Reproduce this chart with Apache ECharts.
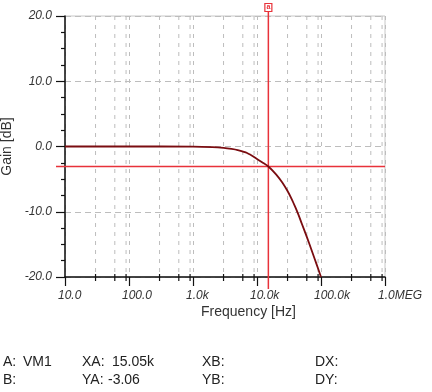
<!DOCTYPE html>
<html>
<head>
<meta charset="utf-8">
<script src="https://cdn.jsdelivr.net/npm/echarts@6/dist/echarts.min.js"></script>
<style>
html,body{margin:0;padding:0;background:#fff;}
#chart{width:432px;height:392px;}
</style>
</head>
<body>
<div id="chart"></div>
<script>
// ---- data ----
const freqs  = [10, 100, 1000, 2000, 3000, 4000, 5000, 7000, 10000, 12000, 15050, 20000, 25000, 30000, 35000, 40000, 45000, 50000, 60000, 70000, 80000, 90000, 100000];
const gainDb = [0, 0, -0.02, -0.1, -0.22, -0.38, -0.56, -1.0, -1.9, -2.4, -3.06, -4.3, -5.56, -6.83, -8.1, -9.38, -10.6, -11.8, -13.85, -15.66, -17.28, -18.7, -20.0];
const xTicks = [10, 100, 1000, 10000, 100000, 1000000];
const xTickLabels = ['10.0', '100.0', '1.0k', '10.0k', '100.0k', '1.0MEG'];
const minorGridFreqs = [30, 60, 90, 300, 600, 900, 3000, 6000, 9000, 30000, 60000, 90000, 300000, 600000, 900000];
const xMin = 10, xMax = 1000000;
const yMin = -20, yMax = 20, yStep = 10;
const cursorName = 'VM1';
const cursorX = 15050;
const cursorY = -3.06;

const FONT = '"Liberation Sans", Arial, sans-serif';
const RED = '#e8323a';
const GRID = '#bdbdbd';

const chart = echarts.init(document.getElementById('chart'), null, {renderer: 'canvas'});

function fmtK(v) { return (v / 1000).toFixed(2) + 'k'; }

const texts = [
  {l: 3,   t: 355, s: 'A:'}, {l: 23, t: 355, s: cursorName},
  {l: 82,  t: 355, s: 'XA:'}, {l: 112, t: 355, s: fmtK(cursorX)},
  {l: 202, t: 355, s: 'XB:'}, {l: 315, t: 355, s: 'DX:'},
  {l: 3,   t: 373, s: 'B:'},
  {l: 82,  t: 373, s: 'YA:'}, {l: 108, t: 373, s: cursorY.toFixed(2)},
  {l: 202, t: 373, s: 'YB:'}, {l: 315, t: 373, s: 'DY:'}
];

const option = {
  animation: false,
  backgroundColor: '#fff',
  grid: {left: 65, right: 47, top: 16, bottom: 115, show: true, borderColor: '#c8c8c8', borderWidth: 1,
         containLabel: false, outerBoundsMode: 'none'},
  xAxis: {
    type: 'log', logBase: 10, min: xMin, max: xMax,
    axisLine: {onZero: false, lineStyle: {color: '#111', width: 1.5}},
    axisTick: {show: true, length: 9, lineStyle: {color: '#111', width: 1.2}},
    minorTick: {show: false},
    splitLine: {show: true, lineStyle: {color: GRID, type: [4, 5], width: 1}},
    axisLabel: {show: false}
  },
  yAxis: {
    type: 'value', min: yMin, max: yMax, interval: yStep,
    name: 'Gain [dB]', nameLocation: 'middle', nameGap: 46, nameRotate: 90,
    nameTextStyle: {fontSize: 14, fontFamily: FONT, color: '#333'},
    axisLine: {show: true, onZero: false, lineStyle: {color: '#111', width: 1.5}},
    axisTick: {show: true, length: 9, lineStyle: {color: '#111', width: 1.2}},
    minorTick: {show: true, splitNumber: 4, length: 4, lineStyle: {color: '#111', width: 1.2}},
    splitLine: {show: true, lineStyle: {color: GRID, type: [6, 4], width: 1}},
    axisLabel: {
      margin: 13, fontSize: 12, fontStyle: 'italic', fontFamily: FONT, color: '#333',
      formatter: function (v) { return v.toFixed(1); }
    }
  },
  graphic: [
    {type: 'text', left: 201, top: 305, style: {text: 'Frequency [Hz]', font: '14px ' + FONT, fill: '#333'}}
  ].concat(texts.map(function (o) {
    return {type: 'text', left: o.l, top: o.t, style: {text: o.s, font: '14px ' + FONT, fill: '#222'}};
  })),
  series: [
    {
      type: 'custom', name: 'minorGrid', z: 1, silent: true, clip: false,
      data: minorGridFreqs.map(function (f) { return [f]; }),
      renderItem: function (params, api) {
        const x = api.value(0);
        const top = api.coord([x, yMax]);
        const bot = api.coord([x, yMin]);
        return {type: 'group', children: [
          {type: 'line', shape: {x1: top[0], y1: top[1], x2: bot[0], y2: bot[1]},
           style: {stroke: GRID, lineWidth: 1, lineDash: [4, 5]}},
          {type: 'line', shape: {x1: bot[0], y1: bot[1] - 3, x2: bot[0], y2: bot[1] + 4},
           style: {stroke: '#111', lineWidth: 1.2}}
        ]};
      }
    },
    {
      type: 'custom', name: 'xTickLabels', z: 2, silent: true, clip: false,
      data: xTicks.map(function (f, i) { return [f, i]; }),
      renderItem: function (params, api) {
        const p = api.coord([api.value(0), yMin]);
        return {type: 'text', style: {x: p[0] - 7, y: p[1] + 13, text: xTickLabels[api.value(1)],
          font: 'italic 12px ' + FONT, fill: '#333', align: 'left', verticalAlign: 'top'}};
      }
    },
    {
      type: 'custom', name: 'cursor', z: 3, silent: true, clip: false,
      data: [[cursorX, cursorY]],
      renderItem: function (params, api) {
        const p = api.coord([api.value(0), api.value(1)]);
        const top = api.coord([api.value(0), yMax]);
        const bot = api.coord([api.value(0), yMin]);
        const lft = api.coord([xMin, api.value(1)]);
        const rgt = api.coord([xMax, api.value(1)]);
        return {type: 'group', children: [
          {type: 'line', shape: {x1: p[0], y1: top[1] - 4, x2: p[0], y2: bot[1] + 12}, style: {stroke: RED, lineWidth: 1.5}},
          {type: 'line', shape: {x1: lft[0] - 9, y1: p[1], x2: rgt[0], y2: p[1]}, style: {stroke: RED, lineWidth: 1.5}},
          {type: 'rect', shape: {x: p[0] - 3.5, y: top[1] - 12.5, width: 7, height: 8}, style: {stroke: RED, fill: '#fff', lineWidth: 1.2}},
          {type: 'text', style: {x: p[0], y: top[1] - 8.5, text: 'a', font: 'bold 7px ' + FONT, fill: RED, align: 'center', verticalAlign: 'middle'}}
        ]};
      }
    },
    {
      type: 'line', name: 'VM1', z: 4,
      data: freqs.map(function (f, i) { return [f, gainDb[i]]; }),
      showSymbol: false, symbol: 'none', smooth: 0.3, clip: true,
      lineStyle: {color: '#7a0c10', width: 1.8}
    }
  ]
};
chart.setOption(option);
</script>
</body>
</html>
